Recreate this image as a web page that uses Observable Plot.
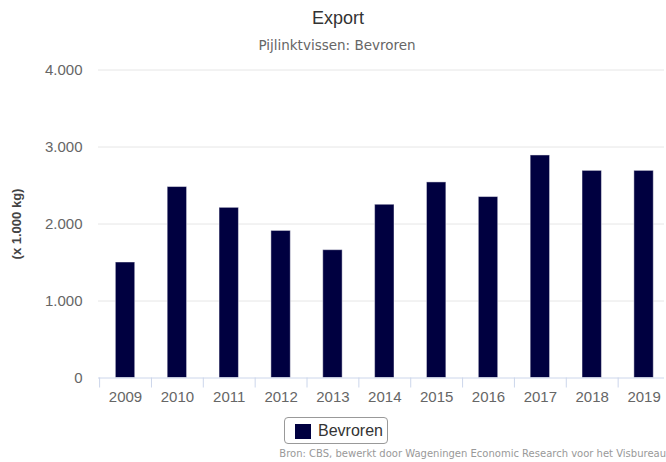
<!DOCTYPE html>
<html>
<head>
<meta charset="utf-8">
<script src="https://cdn.jsdelivr.net/npm/d3@7"></script>
<script src="https://cdn.jsdelivr.net/npm/@observablehq/plot@0.6"></script>
<style>
  body { margin: 0; background: #fff; }
  #wrap { position: relative; width: 666px; height: 462px; overflow: hidden; font-family: "Liberation Sans", Arial, sans-serif; }
  #title { position: absolute; left: 0; width: 676px; top: 8px; text-align: center; font-size: 18px; color: #333; }
  #subtitle { position: absolute; left: 0; width: 674px; top: 37px; text-align: center; font-family: "DejaVu Sans", sans-serif; font-size: 13.5px; color: #666; }
  #chart { position: absolute; left: 0; top: 60px; }
  #legend { position: absolute; left: 284px; top: 417px; width: 104px; height: 27px; border: 1px solid #999; border-radius: 4px; box-sizing: border-box; }
  #legend .sw { position: absolute; left: 10px; top: 6px; width: 16px; height: 15px; }
  #legend .lb { position: absolute; left: 33px; top: 4px; font-size: 16px; color: #333; }
  #caption { position: absolute; right: 0px; top: 448px; font-family: "DejaVu Sans", sans-serif; font-size: 10px; color: #999; white-space: nowrap; }
</style>
</head>
<body>
<div id="wrap">
  <div id="title">Export</div>
  <div id="subtitle">Pijlinktvissen: Bevroren</div>
  <div id="chart"></div>
  <div id="legend"><div class="sw"></div><div class="lb">Bevroren</div></div>
  <div id="caption">Bron: CBS, bewerkt door Wageningen Economic Research voor het Visbureau</div>
</div>
<script>
const years = ["2009","2010","2011","2012","2013","2014","2015","2016","2017","2018","2019"];
const bevroren = [1500, 2480, 2210, 1910, 1660, 2250, 2540, 2350, 2890, 2690, 2690];
const yTicks = [0, 1000, 2000, 3000, 4000];
const seriesName = "Bevroren";
const yLabel = "(x 1.000 kg)";
const barColor = "#000040";

const data = years.map((y, i) => ({year: y, value: bevroren[i]}));
const nl = d3.formatLocale({decimal: ",", thousands: ".", grouping: [3], currency: ["€", ""]});
const fmt = nl.format(",d");

document.querySelector("#legend .sw").style.background = barColor;
document.querySelector("#legend .lb").textContent = seriesName;

const xRange = [99.1, 669.5];
const step = (xRange[1] - xRange[0]) / years.length;

const chart = Plot.plot({
  width: 666,
  height: 350,
  marginTop: 9.5,
  marginBottom: 32.5,
  marginLeft: 98,
  marginRight: 2,
  style: {fontFamily: "Liberation Sans, Arial, sans-serif", fontSize: "15px", color: "#666", background: "transparent"},
  x: {type: "band", domain: years, range: xRange, paddingInner: 0.626, paddingOuter: 0.313, round: false,
      tickSize: 0, tickPadding: 13, label: null},
  y: {domain: [0, 4000], ticks: yTicks, tickFormat: fmt, tickSize: 0, tickPadding: 16,
      label: yLabel, labelAnchor: "center", labelOffset: 87},
  marks: [
    Plot.ruleY(yTicks.filter(d => d > 0), {stroke: "#e6e6e6"}),
    Plot.barY(data, {x: "year", y: "value", fill: barColor, stroke: "#fff", strokeOpacity: 0.45, strokeWidth: 1}),
    Plot.ruleY([0], {stroke: "#ccd6eb"}),
    Plot.ruleX(years, {x: d => d, y1: 0, y2: 0, dx: -step / 2, insetBottom: -10, stroke: "#ccd6eb"})
  ]
});
const lab = chart.querySelector('[aria-label="y-axis label"]');
if (lab) {
  lab.setAttribute("font-weight", "bold"); lab.setAttribute("font-size", "13px"); lab.setAttribute("fill", "#444");
  lab.style.fontWeight = "bold"; lab.style.fontSize = "13px"; lab.style.color = "#444";
  const t = lab.querySelector("text");
  if (t) t.textContent = yLabel;
}
document.getElementById("chart").appendChild(chart);
</script>
</body>
</html>
